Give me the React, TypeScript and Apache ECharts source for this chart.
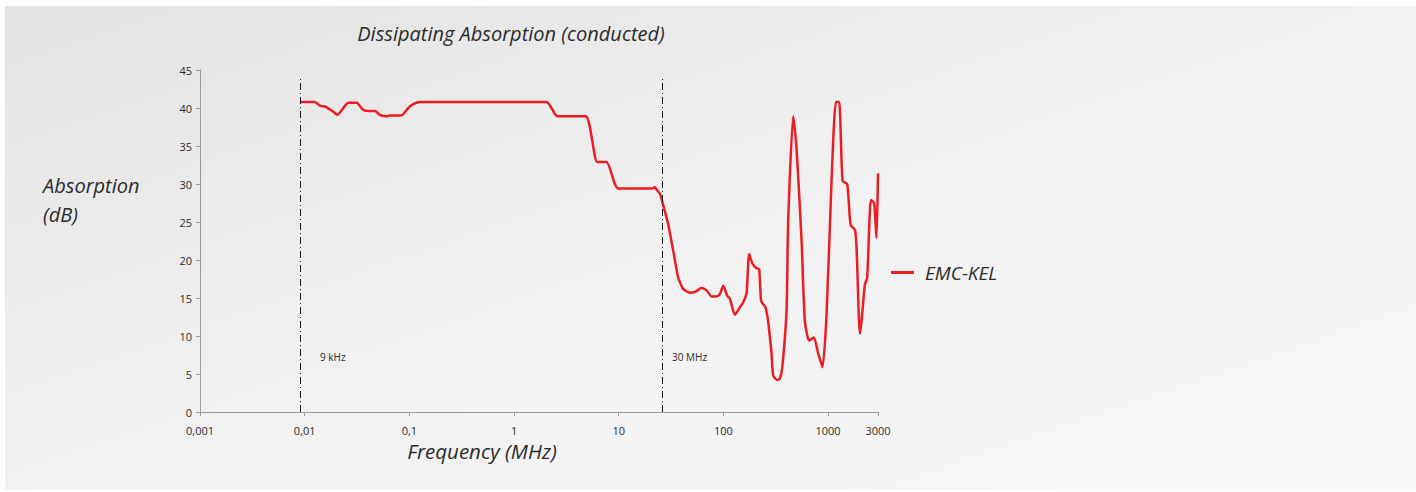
import React, { useEffect, useRef } from "react";
import * as echarts from "echarts";

// Frequency in MHz (log axis) and absorption in dB
const freqMHz = [
  0.009, 0.0125, 0.014, 0.0156, 0.0175, 0.0188, 0.0205, 0.0234, 0.0261, 0.0314,
  0.0358, 0.0405, 0.0469, 0.0524, 0.0607, 0.0653, 0.0813, 0.0875, 0.0977, 0.109,
  0.126, 2.04, 2.6, 4.83, 6.24, 7.66, 9.89, 21.1, 22.2, 23.2,
  24.8, 27.0, 29.7, 33.2, 37.0, 41.3, 47.9, 53.5, 61.9, 69.1,
  77.1, 86.1, 92.6, 99.6, 108.7, 115.4, 128.8, 143.8, 154.6, 166.7,
  176.2, 190, 207.5, 219.8, 229.6, 251.8, 266, 288.4, 299.2, 328,
  346.7, 365.7, 401.6, 415.9, 464.5, 500, 558.5, 600, 660, 731,
  805, 885, 968, 1080, 1188, 1277, 1376, 1524, 1641, 1803,
  1871, 2013, 2090, 2249, 2366, 2566, 2754, 2904, 3000,
];
const absorptionDb = [
  40.8, 40.8, 40.3, 40.2, 39.8, 39.5, 39.1, 40.0, 40.7, 40.7,
  39.8, 39.6, 39.6, 39.1, 38.9, 39.0, 39.0, 39.2, 40.0, 40.5,
  40.8, 40.8, 38.9, 38.9, 32.9, 32.9, 29.4, 29.4, 29.6, 29.2,
  28.7, 26.9, 24.7, 21.2, 17.7, 16.2, 15.7, 15.8, 16.3, 16.0,
  15.2, 15.2, 15.5, 16.6, 15.3, 14.9, 12.8, 13.8, 14.4, 15.7,
  20.8, 19.5, 18.9, 18.8, 14.6, 13.8, 12.2, 7.7, 4.8, 4.2,
  4.4, 5.9, 13.5, 25.1, 38.9, 34.7, 22.5, 12.0, 9.4, 9.8,
  7.7, 5.9, 12.9, 30.4, 40.8, 40.8, 30.4, 30.0, 24.6, 24.0,
  21.7, 10.3, 12.0, 16.8, 17.7, 27.9, 27.5, 22.9, 31.4,
];

const seriesName = "EMC-KEL";
const xMin = 0.001;
const xMax = 3000;
const yMin = 0;
const yMax = 45;
const yInterval = 5;
const markerFreqs = [0.009, 26.3];
const markerLabels = ["9 kHz", "30 MHz"];
const markerTop = 44;

const titleText = "Dissipating Absorption (conducted)";
const yNameLines = ["Absorption", "(dB)"];
const xNameText = "Frequency (MHz)";

const FONT = "'Open Sans', 'Noto Sans', sans-serif";
const TEXT = "#2b2b2b";
const RED = "#ec1c24";

export default function App() {
  const ref = useRef<HTMLDivElement>(null);

  useEffect(() => {
    if (!ref.current) return;
    const chart = echarts.init(ref.current, undefined, { renderer: "svg" });
    const data = freqMHz.map((f, i) => [f, absorptionDb[i]]);

    const fmt = (v: number) => String(+Number(v).toPrecision(6)).replace(".", ",");

    const bigText = (x: number, y: number, text: string, size: number, align = "left") => ({
      type: "text",
      x,
      y,
      style: {
        text,
        fontFamily: FONT,
        fontStyle: "italic",
        fontSize: size,
        fill: TEXT,
        textAlign: align,
        textVerticalAlign: "middle",
      },
    });

    chart.setOption({
      animation: false,
      backgroundColor: "#ffffff",
      textStyle: { fontFamily: FONT },
      grid: { left: 200, right: 538, top: 70, bottom: 80, containLabel: false },
      legend: {
        left: 886,
        top: 258,
        icon: "rect",
        itemWidth: 23,
        itemHeight: 3,
        textStyle: {
          fontFamily: FONT,
          fontStyle: "italic",
          fontSize: 19,
          color: TEXT,
          padding: [0, 0, 0, 6],
        },
        data: [seriesName],
      },
      xAxis: {
        type: "log",
        logBase: 10,
        min: xMin,
        max: xMax,
        axisLine: { lineStyle: { color: "#9a9a9a", width: 1 } },
        axisTick: { show: true, length: 4, lineStyle: { color: "#9a9a9a" } },
        minorTick: { show: false },
        splitLine: { show: false },
        axisLabel: {
          color: TEXT,
          fontSize: 11,
          fontFamily: FONT,
          margin: 13,
          showMinLabel: true,
          showMaxLabel: true,
          formatter: fmt,
        },
      },
      yAxis: {
        type: "value",
        min: yMin,
        max: yMax,
        interval: yInterval,
        axisLine: { show: true, lineStyle: { color: "#9a9a9a", width: 1 } },
        axisTick: { show: true, length: 4, lineStyle: { color: "#9a9a9a" } },
        splitLine: { show: false },
        axisLabel: { color: TEXT, fontSize: 11, fontFamily: FONT, margin: 8 },
      },
      graphic: [
        {
          type: "rect",
          z: -100,
          silent: true,
          shape: { x: 5, y: 6, width: 1411, height: 484 },
          style: {
            fill: new echarts.graphic.LinearGradient(0, 0, 1, 1, [
              { offset: 0, color: "#e3e3e3" },
              { offset: 0.5, color: "#f1f1f1" },
              { offset: 1, color: "#f8f8f8" },
            ]),
          },
        },
        bigText(511, 33, titleText, 20, "center"),
        bigText(43, 185, yNameLines[0], 20),
        bigText(43, 214, yNameLines[1], 20),
        bigText(482, 451, xNameText, 20.5, "center"),
        {
          type: "text",
          x: 320,
          y: 357,
          style: {
            text: markerLabels[0],
            fontFamily: FONT,
            fontSize: 10,
            fill: TEXT,
            textAlign: "left",
            textVerticalAlign: "middle",
          },
        },
        {
          type: "text",
          x: 672,
          y: 357,
          style: {
            text: markerLabels[1],
            fontFamily: FONT,
            fontSize: 10,
            fill: TEXT,
            textAlign: "left",
            textVerticalAlign: "middle",
          },
        },
      ],
      series: [
        {
          name: seriesName,
          type: "line",
          data,
          showSymbol: false,
          symbol: "none",
          smooth: 0.2,
          lineStyle: { color: RED, width: 2.5 },
          itemStyle: { color: RED },
          z: 3,
          markLine: {
            silent: true,
            symbol: "none",
            label: { show: false },
            lineStyle: { color: "#1a1a1a", width: 1, type: [7, 3, 1, 3] },
            data: markerFreqs.map((f) => [
              { coord: [f, yMin] },
              { coord: [f, markerTop] },
            ]),
          },
        },
      ],
    });

    return () => chart.dispose();
  }, []);

  return (
    <div
      ref={ref}
      style={{ position: "fixed", left: 0, top: 0, width: 1416, height: 492 }}
    />
  );
}
